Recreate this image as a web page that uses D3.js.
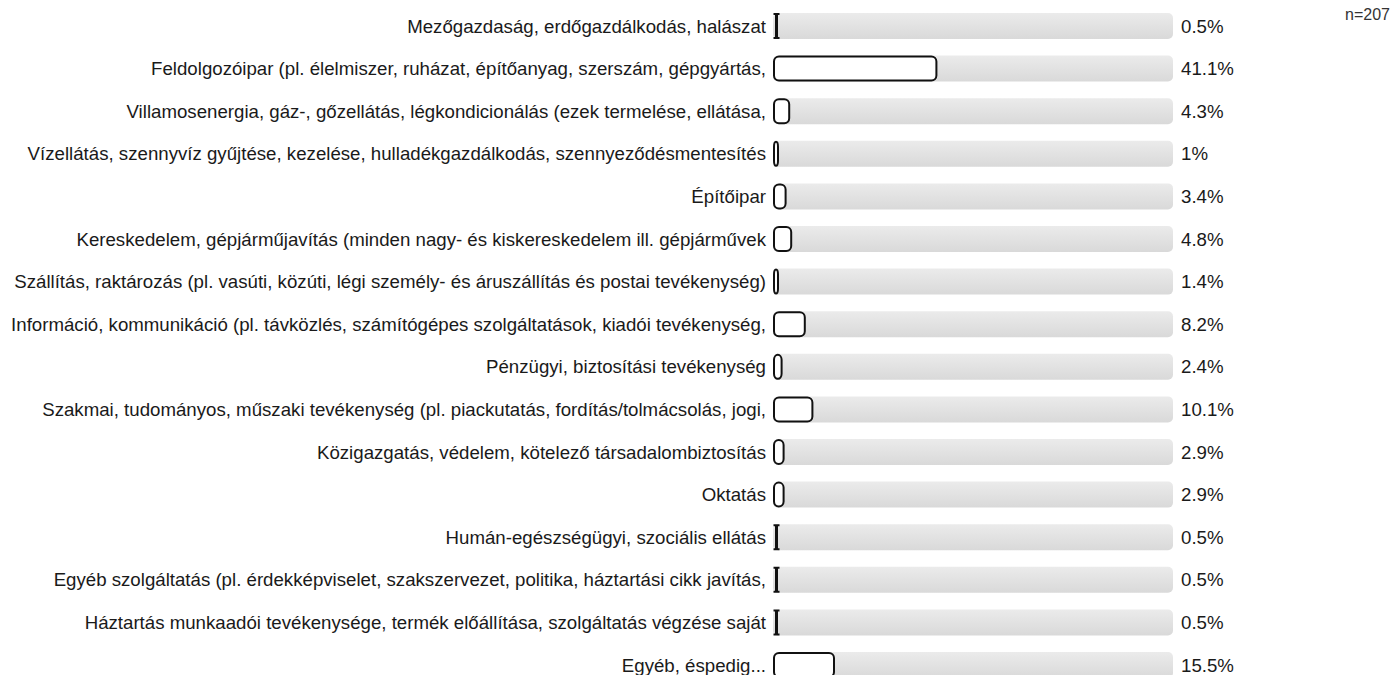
<!DOCTYPE html>
<html>
<head>
<meta charset="utf-8">
<script src="https://cdn.jsdelivr.net/npm/d3@7"></script>
<style>
  html, body { margin: 0; padding: 0; background: #fff; }
  svg { display: block; font-family: Arial, "Liberation Sans", sans-serif; }
</style>
</head>
<body>
<svg id="chart" width="1392" height="675"></svg>
<script>
// answer categories, in display order
const categories = [
  "Mezőgazdaság, erdőgazdálkodás, halászat",
  "Feldolgozóipar (pl. élelmiszer, ruházat, építőanyag, szerszám, gépgyártás,",
  "Villamosenergia, gáz-, gőzellátás, légkondicionálás (ezek termelése, ellátása,",
  "Vízellátás, szennyvíz gyűjtése, kezelése, hulladékgazdálkodás, szennyeződésmentesítés",
  "Építőipar",
  "Kereskedelem, gépjárműjavítás (minden nagy- és kiskereskedelem ill. gépjárművek",
  "Szállítás, raktározás (pl. vasúti, közúti, légi személy- és áruszállítás és postai tevékenység)",
  "Információ, kommunikáció (pl. távközlés, számítógépes szolgáltatások, kiadói tevékenység,",
  "Pénzügyi, biztosítási tevékenység",
  "Szakmai, tudományos, műszaki tevékenység (pl. piackutatás, fordítás/tolmácsolás, jogi,",
  "Közigazgatás, védelem, kötelező társadalombiztosítás",
  "Oktatás",
  "Humán-egészségügyi, szociális ellátás",
  "Egyéb szolgáltatás (pl. érdekképviselet, szakszervezet, politika, háztartási cikk javítás,",
  "Háztartás munkaadói tevékenysége, termék előállítása, szolgáltatás végzése saját",
  "Egyéb, éspedig..."
];

// share of respondents (%)
const percents = [0.5, 41.1, 4.3, 1, 3.4, 4.8, 1.4, 8.2, 2.4, 10.1, 2.9, 2.9, 0.5, 0.5, 0.5, 15.5];

const sampleLabel = "n=207";

const FONT = 18.67; // 14pt
const MIN_BAR = 6;

const svg = d3.select("#chart");

const x = d3.scaleLinear().domain([0, 100]).range([773, 1173]);
const y = d3.scaleBand()
  .domain(categories)
  .range([13, 678])
  .paddingInner(0.39)
  .paddingOuter(0);

// gradient for the background track
const defs = svg.append("defs");
const grad = defs.append("linearGradient")
  .attr("id", "track")
  .attr("x1", 0).attr("y1", 0).attr("x2", 0).attr("y2", 1);
grad.append("stop").attr("offset", "0%").attr("stop-color", "#ebebeb");
grad.append("stop").attr("offset", "100%").attr("stop-color", "#d9d9d9");

const rows = svg.selectAll("g.row")
  .data(categories.map((c, i) => ({ name: c, value: percents[i] })))
  .enter()
  .append("g")
  .attr("class", "row");

// grey track (full 100%)
rows.append("rect")
  .attr("x", x(0))
  .attr("y", (d) => y(d.name))
  .attr("width", x(100) - x(0))
  .attr("height", y.bandwidth())
  .attr("rx", 5)
  .attr("fill", "url(#track)");

const barW = (d) => x(d.value) - x(0);

// white value bar with black border
const normal = rows.filter((d) => barW(d) >= 3);
normal.append("rect")
  .attr("x", x(0) + 1)
  .attr("y", (d) => y(d.name) + 1)
  .attr("width", (d) => Math.max(barW(d), MIN_BAR) - 2)
  .attr("height", y.bandwidth() - 2)
  .attr("rx", (d) => Math.min(5, (Math.max(barW(d), MIN_BAR) - 2) / 2))
  .attr("ry", 5)
  .attr("fill", "#fff")
  .attr("stroke", "#111")
  .attr("stroke-width", 2);

// very small shares collapse into an I-beam shape
const tiny = rows.filter((d) => barW(d) < 3);
tiny.append("path")
  .attr("d", (d) => {
    const cx = x(0) + 3.5;
    const top = y(d.name) + 1;
    const bot = y(d.name) + y.bandwidth() - 1;
    return `M${cx - 3},${top}H${cx + 3}M${cx},${top}V${bot}M${cx - 3},${bot}H${cx + 3}`;
  })
  .attr("fill", "none")
  .attr("stroke", "#111")
  .attr("stroke-width", 2);
tiny.append("line")
  .attr("x1", x(0) + 3.5)
  .attr("x2", x(0) + 3.5)
  .attr("y1", (d) => y(d.name) + 1)
  .attr("y2", (d) => y(d.name) + y.bandwidth() - 1)
  .attr("stroke", "#111")
  .attr("stroke-width", 3);

// category labels
rows.append("text")
  .attr("x", x(0) - 7)
  .attr("y", (d) => y(d.name) + y.bandwidth() / 2)
  .attr("dy", "0.35em")
  .attr("text-anchor", "end")
  .attr("font-size", FONT)
  .attr("fill", "#1a1a1a")
  .text((d) => d.name);

// value labels
rows.append("text")
  .attr("x", x(100) + 8)
  .attr("y", (d) => y(d.name) + y.bandwidth() / 2)
  .attr("dy", "0.35em")
  .attr("font-size", FONT)
  .attr("fill", "#1a1a1a")
  .text((d) => d.value + "%");

svg.append("text")
  .attr("x", 1345)
  .attr("y", 19.5)
  .attr("font-size", 16)
  .attr("fill", "#333")
  .text(sampleLabel);
</script>
</body>
</html>
